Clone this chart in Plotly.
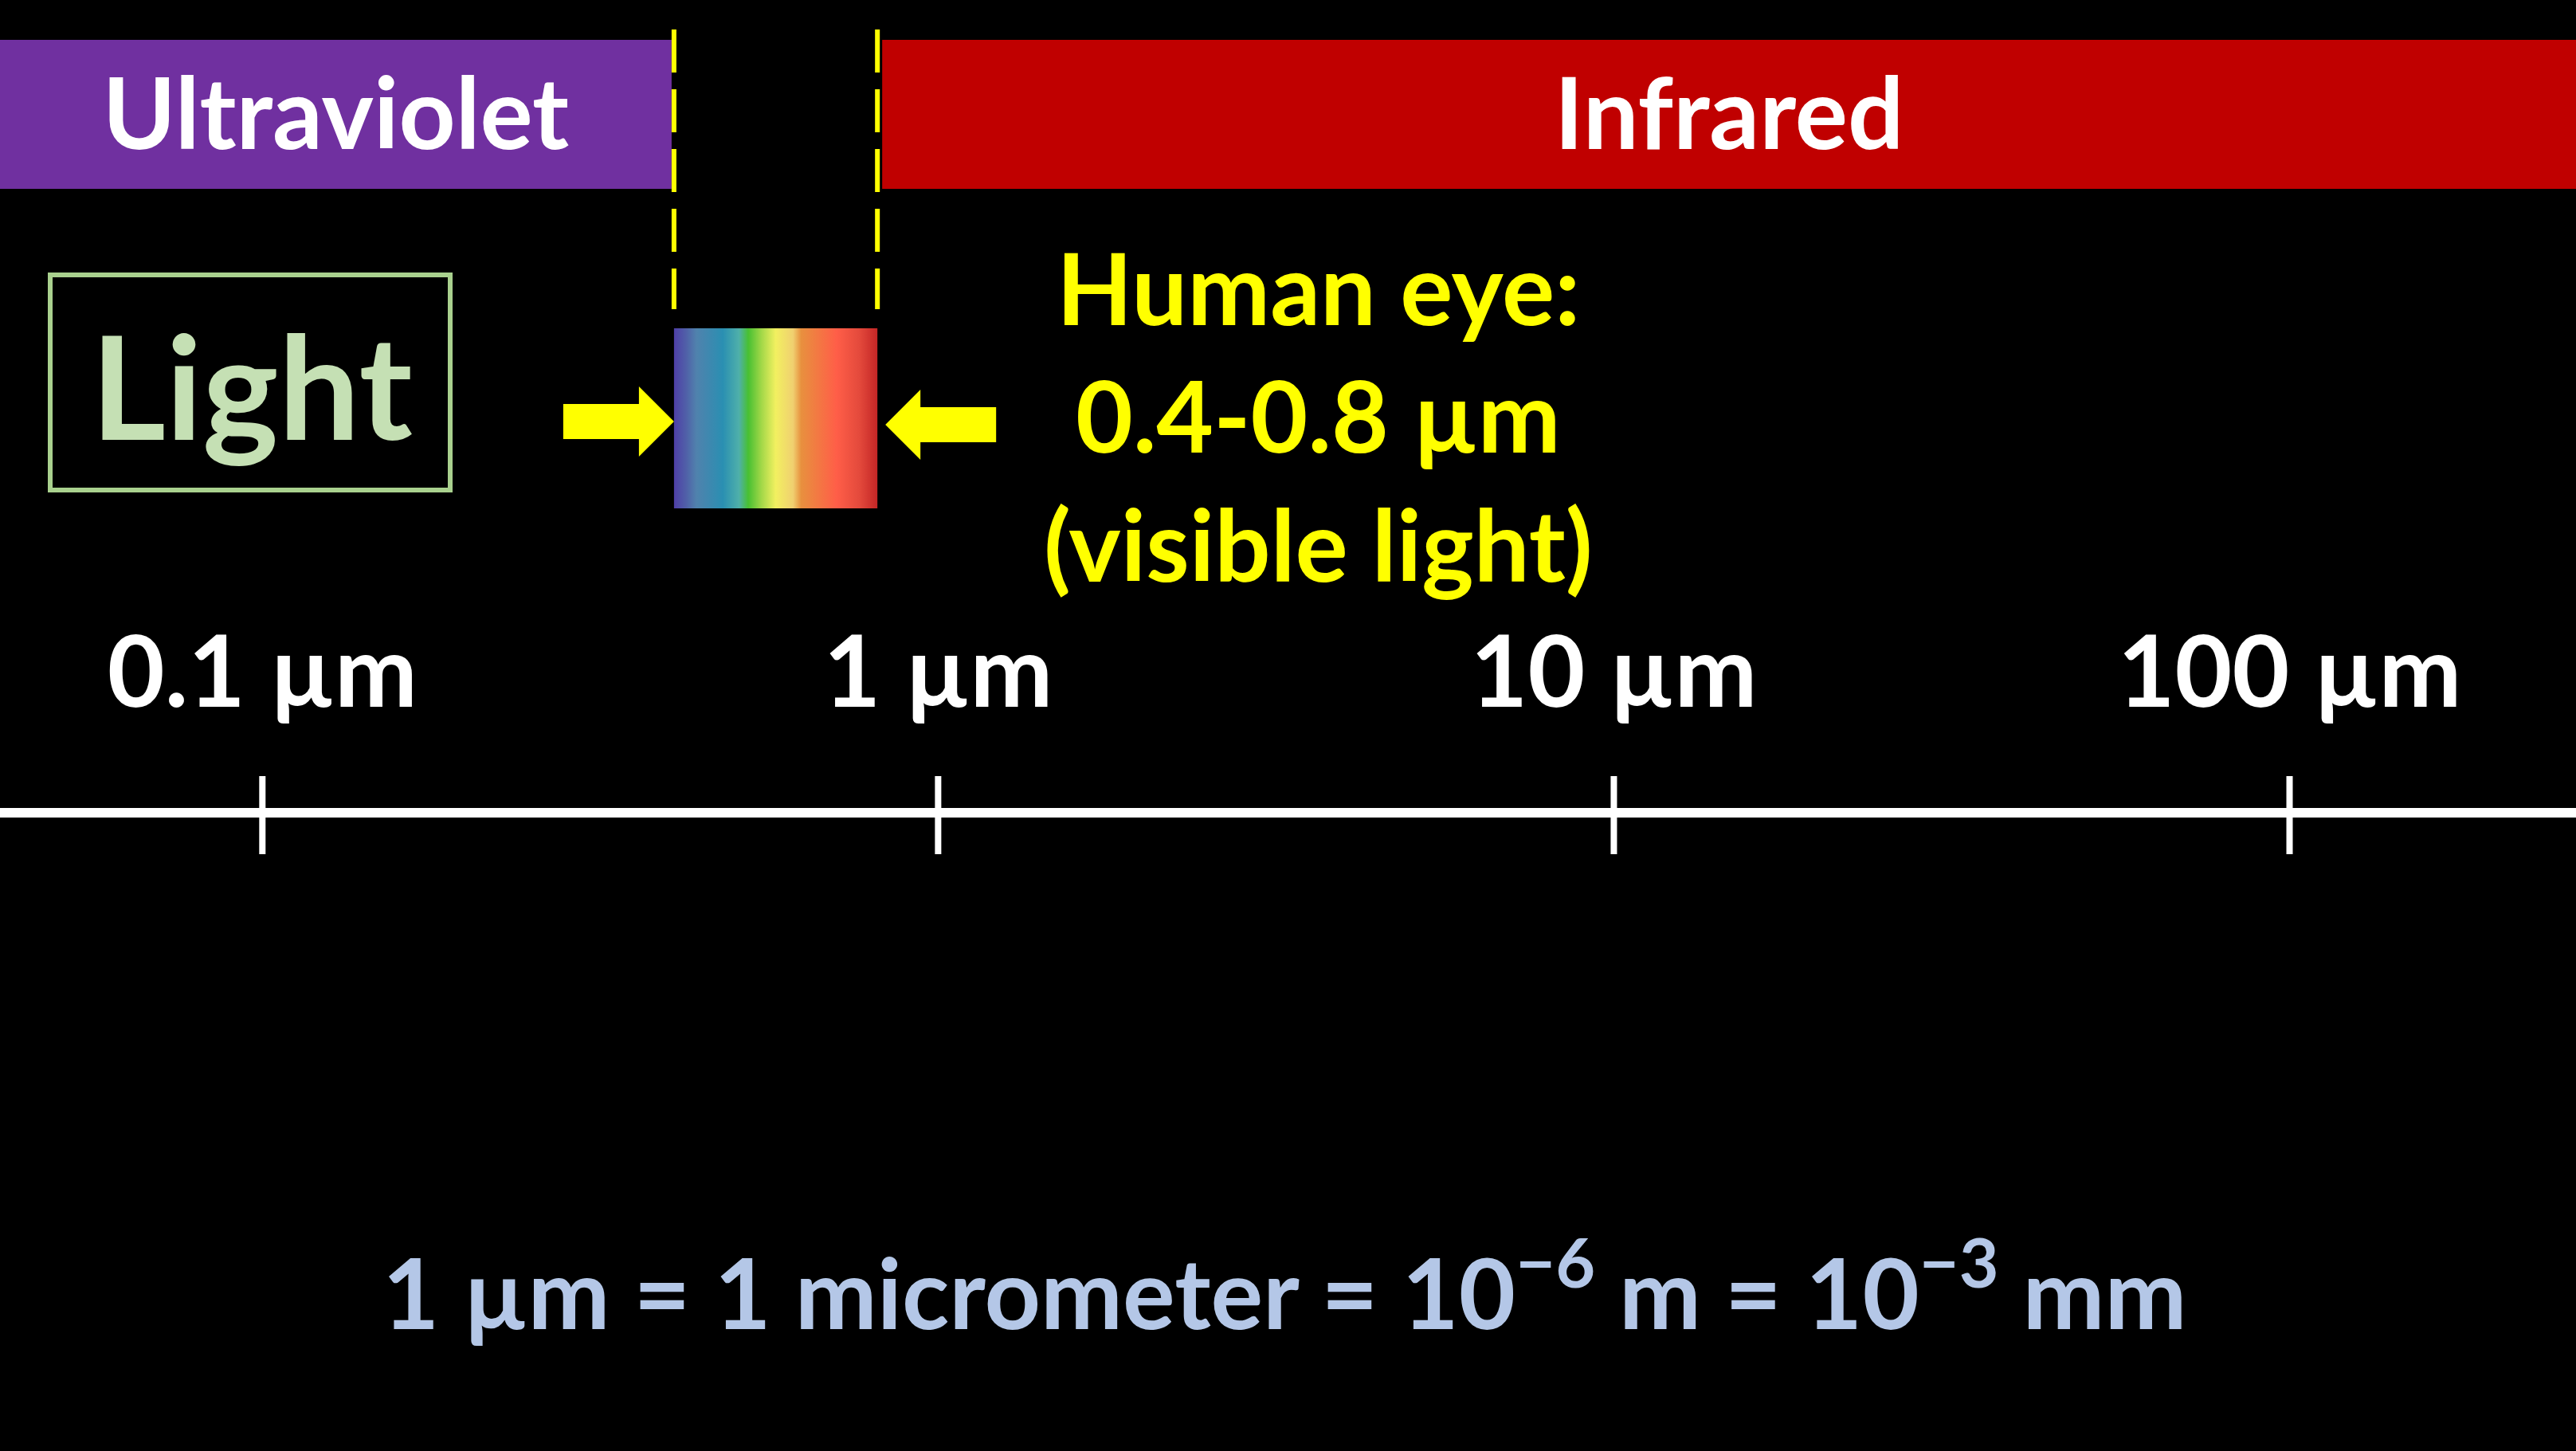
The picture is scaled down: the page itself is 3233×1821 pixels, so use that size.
import math
import plotly.graph_objects as go

# wavelength axis (micrometres, log scale)
tick_values = [0.1, 1, 10, 100]
tick_labels = ["0.1 µm", "1 µm", "10 µm", "100 µm"]
visible_range = [0.4, 0.8]
band_names = ["Ultraviolet", "Infrared"]
band_colors = ["#7030a0", "#c00000"]
eye_lines = ["Human eye:", "0.4-0.8 µm", "(visible light)"]
unit_note = "1 µm = 1 micrometer = 10<sup>−6</sup> m = 10<sup>−3</sup> mm"

# rainbow inside the visible window: (fraction of width, colour)
spectrum_stops = [
    (0.00, "#4f3fa8"), (0.06, "#5060a8"), (0.11, "#5082ad"), (0.24, "#2a8fb2"),
    (0.32, "#4fb0aa"), (0.365, "#48c032"), (0.43, "#a2d848"), (0.50, "#f2f060"),
    (0.585, "#f0d070"), (0.625, "#e8903e"), (0.80, "#ff5e48"), (0.91, "#e44a3c"),
    (1.00, "#c42626"),
]

W, H = 3233, 1821
log_range = [-1.3883, 2.4239]
px_per_decade = W / (log_range[1] - log_range[0])
x_min, x_max = 10 ** log_range[0], 10 ** log_range[1]
FONT = "Lato"
NUDGE = 6  # the window is drawn a few pixels right of the exact wavelengths


def shift(x, px):
    # move a wavelength by a number of screen pixels on the log axis
    return x * 10 ** (px / px_per_decade)


lo, hi = [shift(v, NUDGE) for v in visible_range]

fig = go.Figure()

# ultraviolet / infrared bands
uv_x = [x_min, shift(lo, -3), shift(lo, -3), x_min]
ir_x = [shift(hi, 6), x_max, x_max, shift(hi, 6)]
for name, color, bx in zip(band_names, band_colors, [uv_x, ir_x]):
    fig.add_trace(go.Scatter(
        x=bx, y=[50, 50, 237, 237], fill="toself", fillcolor=color,
        mode="lines", line=dict(width=0), hoverinfo="skip",
    ))
    fig.add_trace(go.Scatter(
        x=[math.sqrt(bx[0] * bx[1])], y=[156], mode="text", text=[name],
        textfont=dict(family=FONT, size=124, color="white", weight="bold"),
        hoverinfo="skip",
    ))

# dashed limits of the visible window
for v in [lo, hi]:
    fig.add_trace(go.Scatter(
        x=[v, v], y=[37, 388], mode="lines",
        line=dict(color="#ffff00", width=6, dash="54px,21px"), hoverinfo="skip",
    ))

# spectrum block
fig.add_trace(go.Scatter(
    x=[lo, hi, hi, lo, lo], y=[412, 412, 638, 638, 412], fill="toself",
    fillgradient=dict(type="horizontal", colorscale=[[p, c] for p, c in spectrum_stops]),
    mode="lines", line=dict(width=0), hoverinfo="skip",
))


# yellow block arrows pointing at the window
def arrow(tip, direction, cy, head_len=44, head_half=44, shaft_len=95, shaft_half=22):
    d = -direction
    base = shift(tip, d * head_len)
    end = shift(tip, d * (head_len + shaft_len))
    xs = [tip, base, base, end, end, base, base, tip]
    ys = [cy, cy - head_half, cy - shaft_half, cy - shaft_half,
          cy + shaft_half, cy + shaft_half, cy + head_half, cy]
    return xs, ys


for tip, direction, cy in [(lo, 1, 529), (shift(hi, 10), -1, 533)]:
    ax, ay = arrow(tip, direction, cy)
    fig.add_trace(go.Scatter(
        x=ax, y=ay, fill="toself", fillcolor="#ffff00", mode="lines",
        line=dict(width=0), hoverinfo="skip",
    ))

# the scale line with ticks and labels
fig.add_trace(go.Scatter(
    x=[x_min, x_max], y=[1020, 1020], mode="lines",
    line=dict(color="white", width=12), hoverinfo="skip",
))
fig.add_trace(go.Scatter(
    x=tick_values, y=[1023] * len(tick_values), mode="markers",
    marker=dict(symbol="line-ns", size=70, line=dict(color="white", width=8)),
    hoverinfo="skip",
))
fig.add_trace(go.Scatter(
    x=tick_values, y=[856] * len(tick_values), mode="text", text=tick_labels,
    textfont=dict(family=FONT, size=124, color="white", weight="bold"),
    hoverinfo="skip",
))

# "Light" box
fig.add_shape(type="rect", xref="paper", yref="y", x0=63 / W, x1=565 / W, y0=345, y1=615,
              line=dict(color="#a9d18e", width=6))
fig.add_annotation(xref="paper", yref="y", x=316 / W, y=482, text="Light", showarrow=False,
                   xanchor="center", yanchor="middle",
                   font=dict(family=FONT, size=181, color="#c5e0b4", weight="bold"))

# human eye note
for line, yy in zip(eye_lines, [360, 520, 682]):
    fig.add_annotation(xref="paper", yref="y", x=1654 / W, y=yy, text=line, showarrow=False,
                       xanchor="center", yanchor="middle",
                       font=dict(family=FONT, size=124, color="#ffff00", weight="bold"))

# unit note
fig.add_annotation(xref="paper", yref="y", x=1612 / W, y=1612, text=unit_note, showarrow=False,
                   xanchor="center", yanchor="middle",
                   font=dict(family=FONT, size=123, color="#b4c7e7", weight="bold"))

fig.update_layout(
    width=W, height=H, margin=dict(l=0, r=0, t=0, b=0),
    paper_bgcolor="black", plot_bgcolor="black", showlegend=False,
    xaxis=dict(type="log", range=log_range, visible=False, fixedrange=True),
    yaxis=dict(range=[H, 0], visible=False, fixedrange=True),
)

fig.write_html("out.html", config={"displayModeBar": False},
               post_script="document.body.style.margin='0';document.body.style.background='black';")
